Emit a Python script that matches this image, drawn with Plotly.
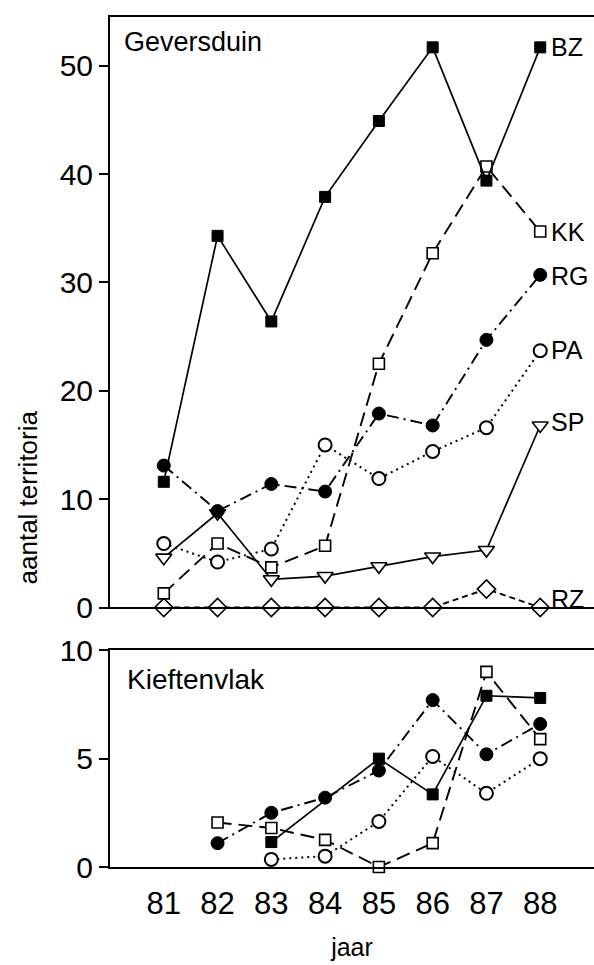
import plotly.graph_objects as go

years = [81, 82, 83, 84, 85, 86, 87, 88]

# Geversduin (top panel)
g_bz = [11.6, 34.3, 26.4, 37.9, 44.9, 51.7, 39.4, 51.7]
g_kk = [1.3, 5.9, 3.7, 5.7, 22.5, 32.7, 40.7, 34.7]
g_rg = [13.1, 8.9, 11.4, 10.7, 17.9, 16.8, 24.7, 30.7]
g_pa = [5.9, 4.2, 5.4, 15.0, 11.9, 14.4, 16.6, 23.7]
g_sp = [4.6, 8.7, 2.6, 2.9, 3.8, 4.7, 5.3, 16.8]
g_rz = [0, 0, 0, 0, 0, 0, 1.7, 0]

# Kieftenvlak (bottom panel)
k_bz_x = [83, 85, 86, 87, 88]
k_bz = [1.15, 5.0, 3.35, 7.9, 7.8]
k_rg_x = [82, 83, 84, 85, 86, 87, 88]
k_rg = [1.1, 2.5, 3.2, 4.45, 7.7, 5.2, 6.6]
k_kk_x = [82, 83, 84, 85, 86, 87, 88]
k_kk = [2.05, 1.8, 1.25, 0.0, 1.1, 9.0, 5.9]
k_pa_x = [83, 84, 85, 86, 87, 88]
k_pa = [0.35, 0.5, 2.1, 5.1, 3.4, 5.0]

labels = ["BZ", "KK", "RG", "PA", "SP", "RZ"]
label_y = [51.7, 34.7, 30.6, 23.8, 17.1, 0.8]

FONT = "Liberation Sans, Arial, sans-serif"
BLK = "black"

styles = {
    "BZ": dict(line=dict(color=BLK, width=1.7, dash="solid"),
               marker=dict(symbol="square", size=11, color=BLK, line=dict(color=BLK, width=1))),
    "KK": dict(line=dict(color=BLK, width=1.9, dash="14px,7px"),
               marker=dict(symbol="square", size=11, color="white", line=dict(color=BLK, width=1.6))),
    "RG": dict(line=dict(color=BLK, width=1.9, dash="12px,5px,2px,5px"),
               marker=dict(symbol="circle", size=13, color=BLK, line=dict(color=BLK, width=1))),
    "PA": dict(line=dict(color=BLK, width=2, dash="2px,4px"),
               marker=dict(symbol="circle", size=13, color="white", line=dict(color=BLK, width=2))),
    "SP": dict(line=dict(color=BLK, width=1.7, dash="solid"),
               marker=dict(symbol="triangle-down", size=14, color="white", line=dict(color=BLK, width=1.6))),
    "RZ": dict(line=dict(color=BLK, width=1.9, dash="6px,4px"),
               marker=dict(symbol="diamond", size=14, color="white", line=dict(color=BLK, width=1.6))),
}

fig = go.Figure()

top_series = [("RZ", years, g_rz), ("SP", years, g_sp), ("PA", years, g_pa),
              ("KK", years, g_kk), ("RG", years, g_rg), ("BZ", years, g_bz)]
for name, xs, ys in top_series:
    fig.add_trace(go.Scatter(x=xs, y=ys, mode="lines+markers", name=name,
                             xaxis="x", yaxis="y", cliponaxis=False, **styles[name]))

bot_series = [("PA", k_pa_x, k_pa), ("KK", k_kk_x, k_kk), ("BZ", k_bz_x, k_bz), ("RG", k_rg_x, k_rg)]
for name, xs, ys in bot_series:
    fig.add_trace(go.Scatter(x=xs, y=ys, mode="lines+markers", name=name,
                             xaxis="x2", yaxis="y2", cliponaxis=False, **styles[name]))

for lab, ly in zip(labels, label_y):
    fig.add_annotation(x=88, y=ly, xref="x", yref="y", text=lab, showarrow=False,
                       xanchor="left", xshift=9, font=dict(family=FONT, size=25, color=BLK))

fig.add_annotation(x=0.025, y=0.971, xref="paper", yref="paper", text="Geversduin",
                   showarrow=False, xanchor="left", yanchor="middle",
                   font=dict(family=FONT, size=27, color=BLK))
fig.add_annotation(x=0.03, y=0.221, xref="paper", yref="paper", text="Kieftenvlak",
                   showarrow=False, xanchor="left", yanchor="middle",
                   font=dict(family=FONT, size=28, color=BLK))
fig.add_annotation(x=-0.169, y=0.435, xref="paper", yref="paper", text="aantal territoria",
                   showarrow=False, textangle=-90, xanchor="center", yanchor="middle",
                   font=dict(family=FONT, size=26, color=BLK))

xcommon = dict(range=[80, 89], showgrid=False, zeroline=False, showline=True,
               linecolor=BLK, linewidth=2, mirror=True,
               tickvals=years, ticktext=[str(y) for y in years])

fig.update_layout(
    width=594, height=965,
    margin=dict(l=110, r=0, t=12, b=98),
    plot_bgcolor="white", paper_bgcolor="white",
    showlegend=False,
    font=dict(family=FONT, color=BLK),
    xaxis=dict(**xcommon, anchor="y", showticklabels=False, ticks=""),
    xaxis2=dict(**xcommon, anchor="y2", ticks="outside", ticklen=8,
                tickcolor="rgba(0,0,0,0)", tickfont=dict(family=FONT, size=31, color=BLK),
                title=dict(text="jaar", font=dict(family=FONT, size=25, color=BLK), standoff=18)),
    yaxis=dict(domain=[0.3053, 1.0], range=[0, 54.5], tickvals=[0, 10, 20, 30, 40, 50],
               showgrid=False, zeroline=False, showline=True, linecolor=BLK, linewidth=2,
               ticks="outside", ticklen=9, tickwidth=2, tickcolor=BLK,
               tickfont=dict(family=FONT, size=30, color=BLK)),
    yaxis2=dict(domain=[0, 0.255], range=[0, 10], tickvals=[0, 5, 10],
                showgrid=False, zeroline=False, showline=True, linecolor=BLK, linewidth=2,
                ticks="outside", ticklen=9, tickwidth=2, tickcolor=BLK,
                tickfont=dict(family=FONT, size=30, color=BLK)),
)

fig.write_html("out.html")
